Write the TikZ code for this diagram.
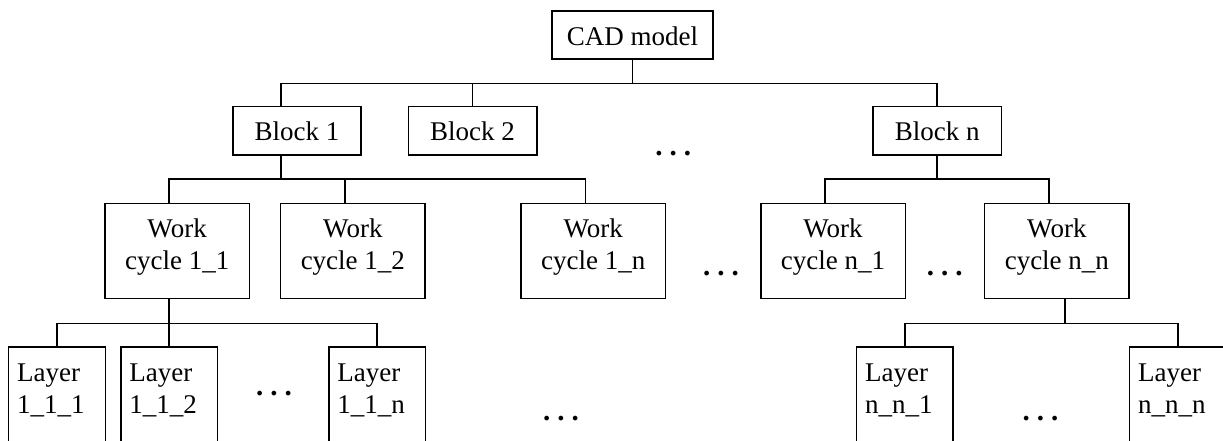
\documentclass[tikz,border=0pt]{standalone}
\usepackage{fontspec}
\setmainfont{Liberation Serif}
\usetikzlibrary{calc}
\newcommand{\dotsx}{\bfseries.\kern0.243em.\kern0.243em.}
\begin{document}
\begin{tikzpicture}[x=1pt,y=-1pt,
  box/.style={draw,line width=1.4pt,inner sep=0pt,rectangle},
  blockbox/.style={box,minimum height=48.3pt},
  workbox/.style={box,minimum width=144.3pt,minimum height=95.4pt},
  layerbox/.style={box,minimum width=96.5pt,minimum height=130pt},
  txt/.style={font=\fontsize{27}{31.7}\selectfont,inner sep=0pt,anchor=base},
  ltxt/.style={txt,anchor=base west},
  dotnode/.style={font=\fontsize{29}{32}\selectfont,inner sep=0pt,anchor=base},
  conn/.style={line width=1.4pt}]
\useasboundingbox (0,0) rectangle (1223,441);
\clip (0,0) rectangle (1223,441);

% boxes
\node[box,minimum width=161pt,minimum height=48pt] (cad) at (632.5,35) {};
\node[blockbox,minimum width=128pt] (b1) at (297,130.85) {};
\node[blockbox,minimum width=128.5pt] (b2) at (472.55,130.85) {};
\node[blockbox,minimum width=128.3pt] (bn) at (937.15,130.85) {};
\node[workbox] (w11) at (177.15,251) {};
\node[workbox] (w12) at (352.85,251) {};
\node[workbox] (w1n) at (593.25,251) {};
\node[workbox] (wn1) at (833.05,251) {};
\node[workbox] (wnn) at (1056.85,251) {};
\node[layerbox] (l111) at (56.95,412) {};
\node[layerbox] (l112) at (169.15,412) {};
\node[layerbox] (l11n) at (377.1,412) {};
\node[layerbox] (lnn1) at (904.9,412) {};
\node[layerbox] (lnnn) at (1177.85,412) {};

% texts
\node[txt] (tcad) at ($(cad.north)+(0,35)$) {CAD model};
\node[txt] (tb1) at ($(b1.north)+(0,35)$) {Block 1};
\node[txt] (tb2) at ($(b2.north)+(0,35)$) {Block 2};
\node[txt] (tbn) at ($(bn.north)+(0,35)$) {Block n};
\node[txt] (tw11) at ($(w11.north)+(0,35)$) {\begin{tabular}[t]{@{}c@{}}Work\\cycle 1\_1\end{tabular}};
\node[txt] (tw12) at ($(w12.north)+(0,35)$) {\begin{tabular}[t]{@{}c@{}}Work\\cycle 1\_2\end{tabular}};
\node[txt] (tw1n) at ($(w1n.north)+(0,35)$) {\begin{tabular}[t]{@{}c@{}}Work\\cycle 1\_n\end{tabular}};
\node[txt] (twn1) at ($(wn1.north)+(0,35)$) {\begin{tabular}[t]{@{}c@{}}Work\\cycle n\_1\end{tabular}};
\node[txt] (twnn) at ($(wnn.north)+(0,35)$) {\begin{tabular}[t]{@{}c@{}}Work\\cycle n\_n\end{tabular}};
\node[ltxt] (tl111) at ($(l111.north west)+(9,35)$) {\begin{tabular}[t]{@{}l@{}}Layer\\1\_1\_1\end{tabular}};
\node[ltxt] (tl112) at ($(l112.north west)+(9,35)$) {\begin{tabular}[t]{@{}l@{}}Layer\\1\_1\_2\end{tabular}};
\node[ltxt] (tl11n) at ($(l11n.north west)+(9,35)$) {\begin{tabular}[t]{@{}l@{}}Layer\\1\_1\_n\end{tabular}};
\node[ltxt] (tlnn1) at ($(lnn1.north west)+(9,35)$) {\begin{tabular}[t]{@{}l@{}}Layer\\n\_n\_1\end{tabular}};
\node[ltxt] (tlnnn) at ($(lnnn.north west)+(9,35)$) {\begin{tabular}[t]{@{}l@{}}Layer\\n\_n\_n\end{tabular}};

% ellipses
\node[dotnode] (dots1) at (673.3,156) {\dotsx};
\node[dotnode] (dots2) at (274,395) {\dotsx};
\node[dotnode] (dots3) at (561,420) {\dotsx};
\node[dotnode] (dots4) at (721,275.3) {\dotsx};
\node[dotnode] (dots5) at (944.7,275.3) {\dotsx};
\node[dotnode] (dots6) at (1040.5,420.3) {\dotsx};

% connectors level 1
\draw[conn] (cad.south) -- ($(cad.south)+(0,23.7)$) coordinate (j0);
\draw[conn] ($(b1.north)+(-16,0)$) |- (j0) -| (bn.north);
\draw[conn] (b2.north) -- (b2.north |- j0);

% connectors level 2
\coordinate (pb1) at ($(b1.south)+(-16,0)$);
\draw[conn] (pb1) -- ($(pb1)+(0,23.3)$) coordinate (j1);
\draw[conn] ($(w11.north)+(-8,0)$) |- (j1) -| ($(w1n.north)+(-8,0)$);
\coordinate (p12) at ($(w12.north)+(-8,0)$);
\draw[conn] (p12) -- (p12 |- j1);
\draw[conn] (bn.south) -- ($(bn.south)+(0,23.3)$) coordinate (j2);
\draw[conn] ($(wn1.north)+(-8,0)$) |- (j2) -| ($(wnn.north)+(-8,0)$);

% connectors level 3
\coordinate (pw11) at ($(w11.south)+(-8,0)$);
\draw[conn] (pw11) -- ($(pw11)+(0,24)$) coordinate (j3);
\draw[conn] (l111.north) |- (j3) -| (l11n.north);
\draw[conn] (l112.north) -- (l112.north |- j3);
\coordinate (pwnn) at ($(wnn.south)+(8,0)$);
\draw[conn] (pwnn) -- ($(pwnn)+(0,24)$) coordinate (j4);
\draw[conn] (lnn1.north) |- (j4) -| (lnnn.north);
\end{tikzpicture}
\end{document}
